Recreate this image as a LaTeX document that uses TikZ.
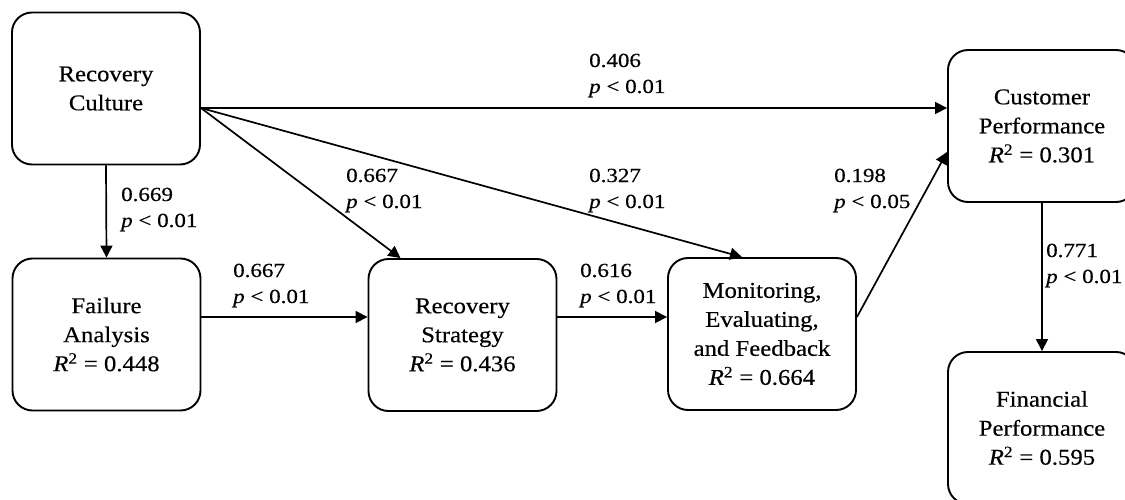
\documentclass[tikz,border=0pt]{standalone}
\usepackage{fontspec}
\setmainfont[FakeStretch=1.1,FakeBold=0.4]{Liberation Serif}
\newfontfamily\lblfont[FakeStretch=1.15,FakeBold=0.4]{Liberation Serif}
\usetikzlibrary{arrows.meta}
\newcommand{\myRsq}{{\itshape R}\textsuperscript{2}}
\begin{document}
\begin{tikzpicture}[x=1pt,y=-1pt,
  box/.style={draw, line width=1.9pt, rounded corners=20pt, minimum width=188pt, minimum height=152pt, align=center, inner sep=0pt, font=\fontsize{22.5}{29}\selectfont},
  conn/.style={line width=1.7pt, -{Triangle[length=12pt,width=12pt]}},
  lbl/.style={anchor=base west, align=left, inner sep=0pt, font=\lblfont\fontsize{20}{26}\selectfont}]
\clip (0,0) rectangle (1125,500);
\useasboundingbox (0,0) rectangle (1125,500);
\fill[white] (0,0) rectangle (1125,500);
% boxes
\node[box] (RC) at (106,88.5) {Recovery\\Culture};
\node[box] (FA) at (106.5,334.5) {Failure\\Analysis\\\myRsq{} = 0.448};
\node[box] (RS) at (462.5,335) {Recovery\\Strategy\\\myRsq{} = 0.436};
\node[box] (MEF) at (762,334) {Monitoring,\\Evaluating,\\and Feedback\\\myRsq{} = 0.664};
\node[box] (CP) at (1042,126) {Customer\\Performance\\\myRsq{} = 0.301};
\node[box] (FP) at (1042,428) {Financial\\Performance\\\myRsq{} = 0.595};
% connectors
\coordinate (rcout) at ([yshift=-19.5pt]RC.east);
\draw[conn] (RC.south) -- (FA.north);
\draw[conn] ([yshift=17.5pt]FA.east) coordinate (fa1) -- (fa1 -| RS.west);
\draw[conn] ([yshift=18pt]RS.east) coordinate (rs1) -- (rs1 -| MEF.west);
\draw[conn] (rcout) -- (rcout -| CP.west);
\draw[conn] (rcout) -- ([xshift=-62pt]RS.north);
\draw[conn] (rcout) -- ([xshift=-20pt]MEF.north);
\draw[conn] ([yshift=17pt]MEF.east) -- ([yshift=-26pt]CP.west);
\draw[conn] (CP.south) -- (FP.north);
% labels (anchor = baseline of the second line)
\node[lbl] (l1) at (121,227) {0.669\\\textit{p} < 0.01};
\node[lbl] (l2) at (233,303) {0.667\\\textit{p} < 0.01};
\node[lbl] (l3) at (346,208) {0.667\\\textit{p} < 0.01};
\node[lbl] (l4) at (589,93) {0.406\\\textit{p} < 0.01};
\node[lbl] (l5) at (589,208) {0.327\\\textit{p} < 0.01};
\node[lbl] (l6) at (580,303) {0.616\\\textit{p} < 0.01};
\node[lbl] (l7) at (834,208) {0.198\\\textit{p} < 0.05};
\node[lbl] (l8) at (1046,283) {0.771\\\textit{p} < 0.01};
\end{tikzpicture}
\end{document}
